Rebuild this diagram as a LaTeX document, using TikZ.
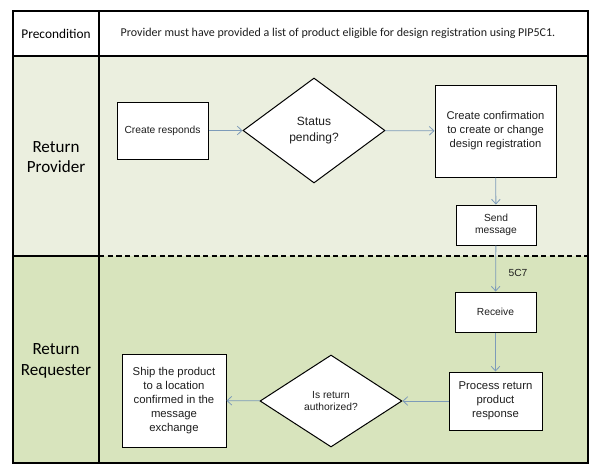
\documentclass[tikz,border=0pt]{standalone}
\usepackage{fontspec}
\setmainfont{Liberation Sans}
\newfontfamily\calibri{Carlito}
\usetikzlibrary{shapes.geometric,arrows.meta}
\definecolor{providergreen}{RGB}{235,239,223}
\definecolor{requestergreen}{RGB}{216,228,189}
\definecolor{flowblue}{RGB}{125,155,185}
\definecolor{inkgray}{RGB}{30,30,30}

\begin{document}
\begin{tikzpicture}[x=0.75pt,y=-0.75pt,
    box/.style={draw=black, line width=0.75pt, fill=white, align=center, inner sep=1pt, text=inkgray},
    decision/.style={diamond, draw=black, line width=0.75pt, fill=white, align=center, inner sep=0pt, text=inkgray},
    flow/.style={flowblue, line width=0.6pt, -{Straight Barb[length=3.5pt,width=6.5pt]}},
    frameline/.style={line width=1.5pt},
    smalltext/.style={font=\fontsize{7.7}{9.5}\selectfont},
    bodytext/.style={font=\fontsize{8.4}{10.5}\selectfont},
    lanetext/.style={font=\calibri\fontsize{12.8}{15.5}\selectfont, align=center}]
    \useasboundingbox (0,0) rectangle (600,475);
    \fill[white] (0,0) rectangle (600,475);

    % Swim lanes
    \fill[providergreen] (13,56) rectangle (588,256);
    \fill[requestergreen] (13,256) rectangle (588,463);
    \draw[frameline] (13,11) rectangle (588,463);
    \draw[frameline] (99,11) -- (99,463);
    \draw[frameline] (13,56) -- (588,56);
    \draw[frameline] (13,256) -- (99,256);
    \draw[line width=1.2pt, dash pattern=on 4pt off 2.5pt] (99,256) -- (588,256);

    % Row and lane labels
    \node[font=\calibri\fontsize{10}{12}\selectfont] (pre) at (56,33.5) {Precondition};
    \node[font=\calibri\fontsize{9}{11}\selectfont, text=inkgray] (pretext) at (338,33.5)
        {Provider must have provided a list of product eligible for design registration using PIP5C1.};
    \node[lanetext] (provider) at (56,157) {Return\\Provider};
    \node[lanetext] (requester) at (56,361) {Return\\Requester};

    % Return Provider steps
    \node[box, smalltext, minimum width=68.25pt, minimum height=42.75pt] (resp) at (162.5,130.5) {Create responds};
    \node[decision, font=\fontsize{9}{12.5}\selectfont, minimum width=106.5pt, minimum height=78.75pt] (status) at (314,130.5) {Status\\pending?};
    \node[box, bodytext, minimum width=90.75pt, minimum height=69pt] (confirm) at (495.5,131) {Create confirmation\\to create or change\\design registration};
    \node[box, smalltext, minimum width=60pt, minimum height=30pt] (send) at (496,225) {Send\\message};

    % Return Requester steps
    \node[box, smalltext, minimum width=60.75pt, minimum height=30pt] (receive) at (495.5,312) {Receive};
    \node[box, font=\fontsize{8.5}{10.5}\selectfont, minimum width=69.75pt, minimum height=43.5pt] (process) at (495.5,401) {Process return\\product\\response};
    \node[decision, smalltext, minimum width=106.5pt, minimum height=69pt] (auth) at (331,401) {Is return\\authorized?};
    \node[box, font=\fontsize{8.5}{10.5}\selectfont, minimum width=78pt, minimum height=69.75pt] (ship) at (174,400.5) {Ship the product\\to a location\\confirmed in the\\message\\exchange};

    % Connectors
    \draw[flow] (resp) -- (status);
    \draw[flow] (status) -- (confirm);
    \draw[flow] (confirm) -- (send);
    \draw[flow] (send) -- node[right, smalltext, text=inkgray, xshift=6pt, pos=0.6] {5C7} (receive);
    \draw[flow] (receive) -- (process);
    \draw[flow] (process) -- (auth);
    \draw[flow] (auth) -- (ship);
\end{tikzpicture}
\end{document}
